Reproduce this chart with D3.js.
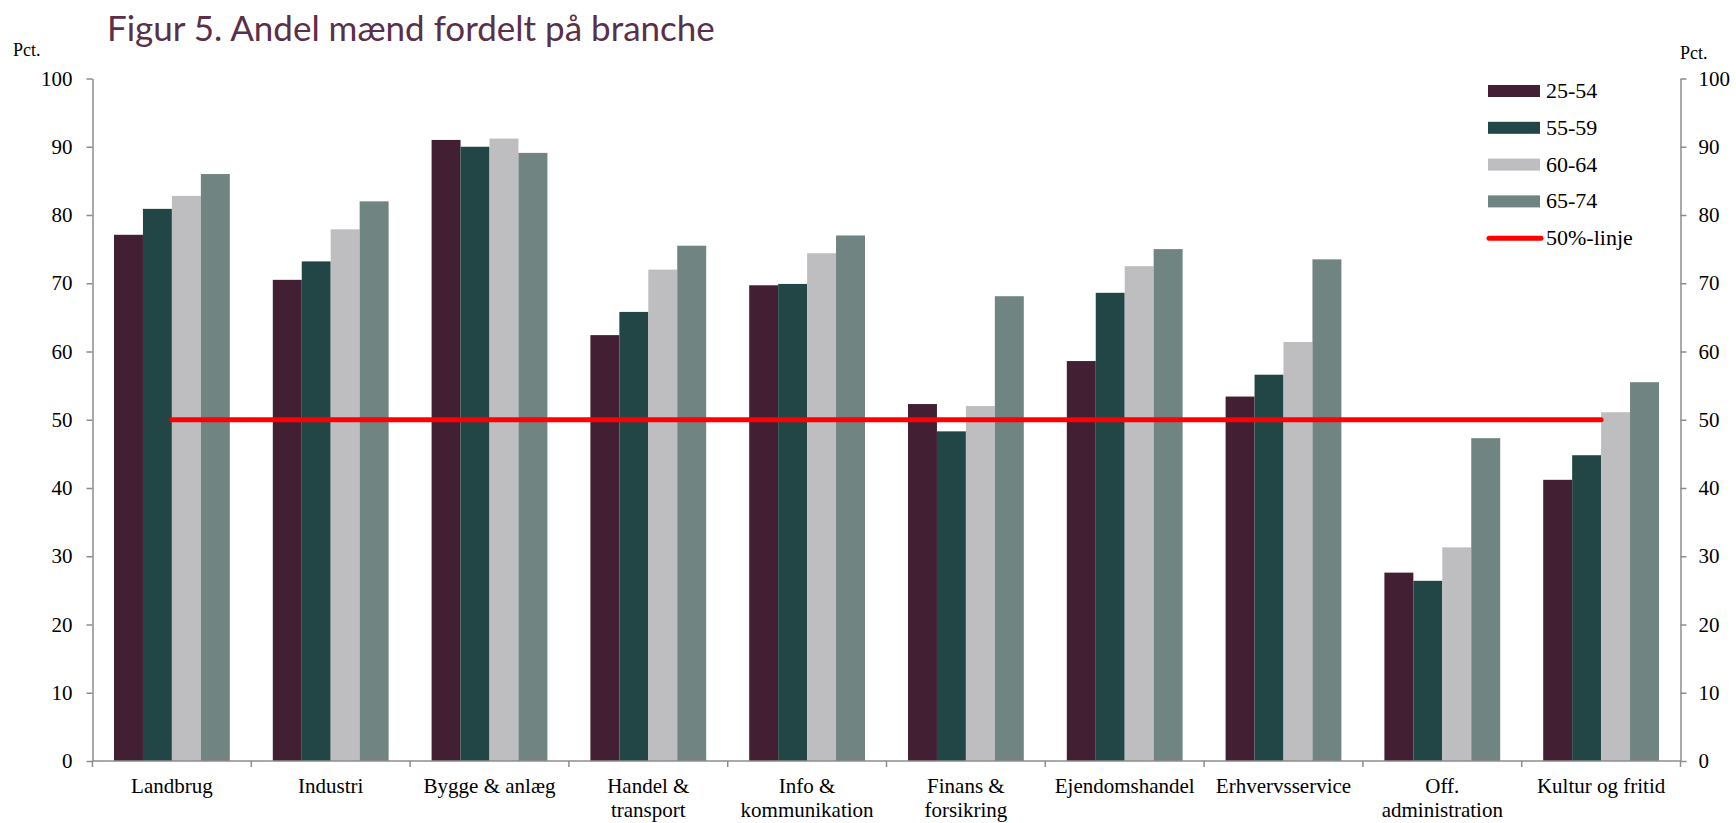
<!DOCTYPE html>
<html>
<head>
<meta charset="utf-8">
<script src="https://cdn.jsdelivr.net/npm/d3@7"></script>
<style>
  body { margin: 0; background: #fff; }
  svg { display: block; }
</style>
</head>
<body>
<svg width="1736" height="823"></svg>
<script>
// data
const categories = ["Landbrug", "Industri", "Bygge & anlæg", "Handel &\ntransport", "Info &\nkommunikation",
  "Finans &\nforsikring", "Ejendomshandel", "Erhvervsservice", "Off.\nadministration", "Kultur og fritid"];
const series = ["25-54", "55-59", "60-64", "65-74"];
const v2554 = [77.1, 70.5, 91.0, 62.4, 69.7, 52.3, 58.6, 53.4, 27.6, 41.2];
const v5559 = [80.9, 73.2, 90.0, 65.8, 69.9, 48.3, 68.6, 56.6, 26.4, 44.8];
const v6064 = [82.8, 77.9, 91.2, 72.0, 74.4, 52.0, 72.5, 61.4, 31.3, 51.1];
const v6574 = [86.0, 82.0, 89.1, 75.5, 77.0, 68.1, 75.0, 73.5, 47.3, 55.5];
const yTicks = [0, 10, 20, 30, 40, 50, 60, 70, 80, 90, 100];
const refLine = 50;
const colors = ["#421f33", "#224545", "#bebec0", "#708482"];

const values = [v2554, v5559, v6064, v6574];
let svg = d3.select("svg");
let axisCol = "#8c8c8c";

let x = d3.scaleBand().domain(categories).range([92.5, 1680.5]).padding(0);
let xs = d3.scaleBand().domain(series).range([21.5, x.bandwidth() - 21.5]).padding(0);
let y = d3.scaleLinear().domain([0, 100]).range([761, 78.5]);

// title
svg.append("text")
  .attr("x", 107).attr("y", 41)
  .style("font-family", "Lato, 'Open Sans', sans-serif")
  .style("font-size", "35px")
  .style("fill", "#5a2f4a")
  .text("Figur 5. Andel mænd fordelt på branche");

// bars
let groups = svg.append("g").selectAll("g")
  .data(categories)
  .enter().append("g")
  .attr("transform", d => "translate(" + x(d) + ",0)");

groups.selectAll("rect")
  .data((d, i) => series.map((s, j) => ({s: s, v: values[j][i], j: j})))
  .enter().append("rect")
  .attr("x", d => xs(d.s))
  .attr("width", xs.bandwidth())
  .attr("y", d => y(d.v))
  .attr("height", d => y(0) - y(d.v))
  .style("fill", d => colors[d.j]);

// 50% line, centre of first to centre of last category
svg.append("line")
  .attr("x1", x(categories[0]) + x.bandwidth() / 2)
  .attr("x2", x(categories[categories.length - 1]) + x.bandwidth() / 2)
  .attr("y1", y(refLine)).attr("y2", y(refLine))
  .style("stroke", "#ff0000")
  .style("stroke-width", 5)
  .style("stroke-linecap", "round");

// y axes
function styleAxis(g) {
  g.select(".domain").style("stroke", axisCol).style("stroke-width", 1.5);
  g.selectAll(".tick line").style("stroke", axisCol).style("stroke-width", 1.5);
  g.selectAll(".tick text")
    .style("font-family", "'Liberation Serif', serif")
    .style("font-size", "21px")
    .style("fill", "#000");
}
svg.append("g")
  .attr("transform", "translate(92.5,0)")
  .call(d3.axisLeft(y).tickValues(yTicks).tickSize(6).tickSizeOuter(0).tickPadding(14))
  .call(styleAxis);
svg.append("g")
  .attr("transform", "translate(1680.5,0)")
  .call(d3.axisRight(y).tickValues(yTicks).tickSize(6).tickSizeOuter(0).tickPadding(12))
  .call(styleAxis);

// x axis line and boundary ticks
svg.append("line")
  .attr("x1", 92.5).attr("x2", 1680.5)
  .attr("y1", y(0)).attr("y2", y(0))
  .style("stroke", axisCol).style("stroke-width", 1.5);
svg.append("g").selectAll("line")
  .data(d3.range(categories.length + 1))
  .enter().append("line")
  .attr("x1", i => 92.5 + i * x.bandwidth())
  .attr("x2", i => 92.5 + i * x.bandwidth())
  .attr("y1", y(0)).attr("y2", y(0) + 6)
  .style("stroke", axisCol).style("stroke-width", 1.5);

// category labels
let labels = svg.append("g").selectAll("text")
  .data(categories)
  .enter().append("text")
  .attr("text-anchor", "middle")
  .attr("transform", d => "translate(" + (x(d) + x.bandwidth() / 2) + ",793)")
  .style("font-family", "'Liberation Serif', serif")
  .style("font-size", "21px")
  .style("fill", "#000");
labels.selectAll("tspan")
  .data(d => d.split("\n"))
  .enter().append("tspan")
  .attr("x", 0)
  .attr("dy", (d, i) => i === 0 ? 0 : 24)
  .text(d => d);

// Pct. labels
svg.append("text").attr("x", 13).attr("y", 56)
  .style("font-family", "'Liberation Serif', serif").style("font-size", "18px").text("Pct.");
svg.append("text").attr("x", 1680).attr("y", 59)
  .style("font-family", "'Liberation Serif', serif").style("font-size", "18px").text("Pct.");

// legend
let legend = svg.append("g").attr("transform", "translate(1488,91)");
let items = series.concat(["50%-linje"]);
let rows = legend.selectAll("g")
  .data(items)
  .enter().append("g")
  .attr("transform", (d, i) => "translate(0," + i * 36.8 + ")");
rows.filter((d, i) => i < series.length)
  .append("rect")
  .attr("x", 0).attr("y", -6).attr("width", 52).attr("height", 12)
  .style("fill", (d, i) => colors[i]);
rows.filter((d, i) => i === series.length)
  .append("line")
  .attr("x1", 1).attr("x2", 53).attr("y1", 0).attr("y2", 0)
  .style("stroke", "#ff0000").style("stroke-width", 5).style("stroke-linecap", "round");
rows.append("text")
  .attr("x", 58).attr("y", 7)
  .style("font-family", "'Liberation Serif', serif")
  .style("font-size", "22px")
  .text(d => d);
</script>
</body>
</html>
